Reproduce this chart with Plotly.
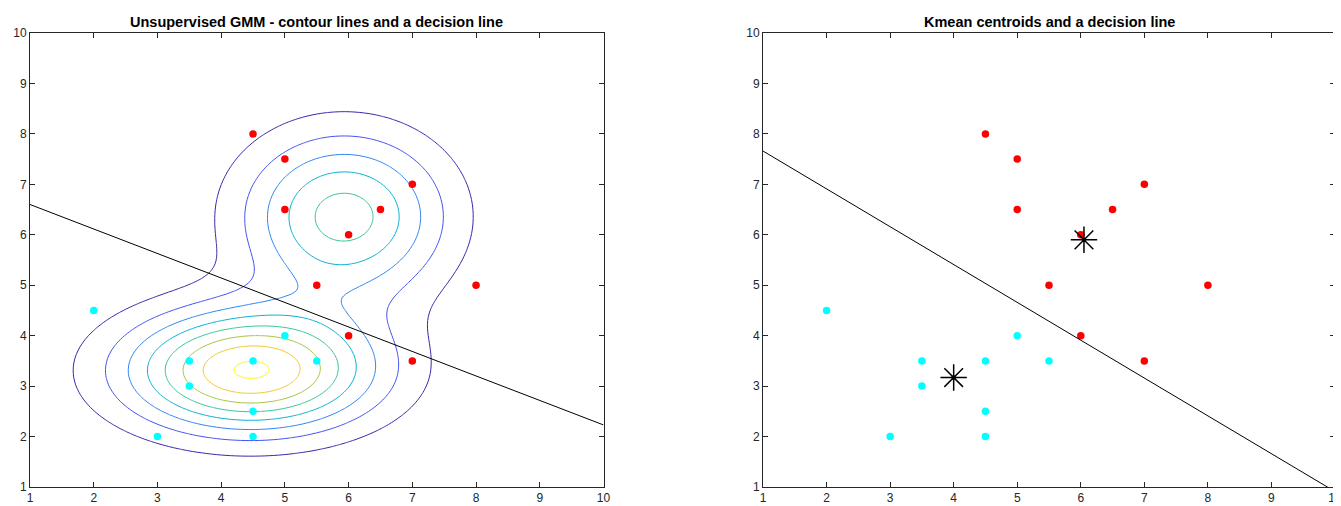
import numpy as np
import plotly.graph_objects as go

# ---- data ----
red_x = [4.5, 5, 7, 5, 6.5, 6, 5.5, 8, 6, 7]
red_y = [8, 7.5, 7, 6.5, 6.5, 6, 5, 5, 4, 3.5]
cyan_x = [2, 5, 3.5, 4.5, 5.5, 3.5, 4.5, 3, 4.5]
cyan_y = [4.5, 4, 3.5, 3.5, 3.5, 3, 2.5, 2, 2]

# GMM parameters (estimated from the contour picture)
gmm_weights = [0.575, 0.425]
gmm_mean_x = [4.46, 5.93]
gmm_mean_y = [3.31, 6.36]
gmm_sigma_x = [1.36, 1.10]
gmm_sigma_y = [0.83, 1.13]
contour_levels = [0.01, 0.08, 0.01]  # start, end, step

# decision lines (endpoints)
gmm_line_x = [1, 10]
gmm_line_y = [6.60, 2.23]
km_line_x = [1, 10]
km_line_y = [7.66, 0.91]

# k-means centroids
cent_x = [4.0, 6.05]
cent_y = [3.17, 5.9]

ticks = list(range(1, 11))

parula = [
    [0.00, "#3e26a8"], [0.11, "#4747eb"], [0.22, "#3e6fff"], [0.33, "#2796eb"],
    [0.44, "#08b5d0"], [0.56, "#31c69f"], [0.67, "#80cc59"], [0.78, "#dcbd29"],
    [0.89, "#fccf30"], [1.00, "#f9fb15"],
]

gx = np.linspace(1, 10, 121)
gy = np.linspace(1, 10, 121)
GX, GY = np.meshgrid(gx, gy)
Z = np.zeros_like(GX)
for w, mx, my, sx, sy in zip(gmm_weights, gmm_mean_x, gmm_mean_y, gmm_sigma_x, gmm_sigma_y):
    Z += w / (2 * np.pi * sx * sy) * np.exp(-0.5 * (((GX - mx) / sx) ** 2 + ((GY - my) / sy) ** 2))

fig = go.Figure()

fig.add_trace(go.Contour(
    x=gx, y=gy, z=Z, xaxis="x", yaxis="y",
    contours=dict(coloring="lines", start=contour_levels[0], end=contour_levels[1], size=contour_levels[2]),
    colorscale=parula, zmin=contour_levels[0], zmax=contour_levels[1], zauto=False,
    line=dict(width=1), showscale=False, hoverinfo="skip",
))

for ax, ay in (("x", "y"), ("x2", "y2")):
    fig.add_trace(go.Scatter(x=red_x, y=red_y, mode="markers", xaxis=ax, yaxis=ay,
                             marker=dict(color="#ff0000", size=7.5), showlegend=False))
    fig.add_trace(go.Scatter(x=cyan_x, y=cyan_y, mode="markers", xaxis=ax, yaxis=ay,
                             marker=dict(color="#00ffff", size=7.5), showlegend=False))

fig.add_trace(go.Scatter(x=gmm_line_x, y=gmm_line_y, mode="lines", xaxis="x", yaxis="y",
                         line=dict(color="black", width=1), showlegend=False))
fig.add_trace(go.Scatter(x=km_line_x, y=km_line_y, mode="lines", xaxis="x2", yaxis="y2",
                         line=dict(color="black", width=1), showlegend=False))
fig.add_trace(go.Scatter(x=cent_x, y=cent_y, mode="markers", xaxis="x2", yaxis="y2",
                         marker=dict(symbol="asterisk-open", size=22, color="black",
                                     line=dict(color="black", width=1.5)), showlegend=False))
fig.add_trace(go.Scatter(x=cent_x, y=cent_y, mode="markers", xaxis="x2", yaxis="y2",
                         marker=dict(symbol="square", size=4, color="black"), showlegend=False))

axis_common = dict(range=[1, 10], tickvals=ticks, ticks="inside", ticklen=5, tickcolor="#262626",
                   showline=True, linecolor="#262626", linewidth=1, mirror="ticks",
                   showgrid=False, zeroline=False, automargin=False,
                   tickfont=dict(family="Liberation Sans, Arial", size=12, color="#262626"))

# page body has an 8px margin: figure pixel = screen pixel - 8
OFF = 8
W, H = 1341 - OFF, 506 - OFF


def px_x(p):
    return (p - OFF) / W


def px_y(p):
    return 1 - (p - OFF) / H


fig.update_layout(
    width=W, height=H, margin=dict(l=0, r=0, t=0, b=0, autoexpand=False),
    paper_bgcolor="white", plot_bgcolor="white", showlegend=False,
    xaxis=dict(domain=[px_x(30), px_x(603.5)], anchor="y", **axis_common),
    yaxis=dict(domain=[px_y(487), px_y(33)], anchor="x", **axis_common),
    xaxis2=dict(domain=[px_x(763), px_x(1335)], anchor="y2", ticklabeloverflow="allow", **axis_common),
    yaxis2=dict(domain=[px_y(487), px_y(33)], anchor="x2", **axis_common),
    annotations=[
        dict(text="<b>Unsupervised GMM - contour lines and a decision line</b>", xref="paper", yref="paper",
             x=px_x((30 + 603.5) / 2), y=px_y(22), showarrow=False, xanchor="center", yanchor="middle",
             font=dict(family="Liberation Sans, Arial", size=14.5, color="black")),
        dict(text="<b>Kmean centroids and a decision line</b>", xref="paper", yref="paper",
             x=px_x((763 + 1335) / 2), y=px_y(22), showarrow=False, xanchor="center", yanchor="middle",
             font=dict(family="Liberation Sans, Arial", size=14.5, color="black")),
    ],
)

fig.write_html("out.html")
